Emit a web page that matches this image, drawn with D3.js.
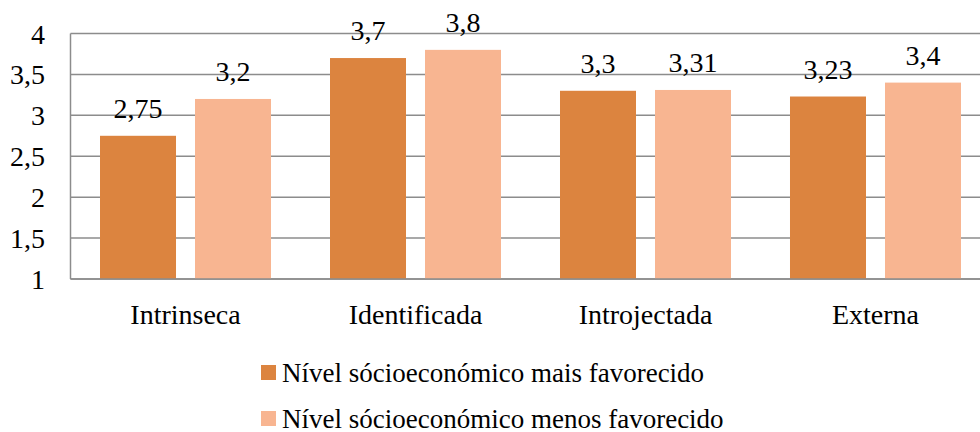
<!DOCTYPE html>
<html>
<head>
<meta charset="utf-8">
<script src="https://cdn.jsdelivr.net/npm/d3@7/dist/d3.min.js"></script>
<style>
  html, body { margin: 0; padding: 0; background: #fff; }
  svg { display: block; }
  text { font-family: "Liberation Serif", "Times New Roman", serif; fill: #000; }
</style>
</head>
<body>
<svg id="chart" width="980" height="432"></svg>
<script>
// Categories and series
const categories = ["Intrinseca", "Identificada", "Introjectada", "Externa"];
const seriesNames = ["Nível sócioeconómico mais favorecido", "Nível sócioeconómico menos favorecido"];
const maisFavorecido = [2.75, 3.7, 3.3, 3.23];
const menosFavorecido = [3.2, 3.8, 3.31, 3.4];
const valueLabels = [["2,75", "3,7", "3,3", "3,23"], ["3,2", "3,8", "3,31", "3,4"]];
const yTicks = [1, 1.5, 2, 2.5, 3, 3.5, 4];
const yTickLabels = ["1", "1,5", "2", "2,5", "3", "3,5", "4"];
const colors = ["#DC843F", "#F8B591"];

const series = [maisFavorecido, menosFavorecido];

const svg = d3.select("#chart");

const x0 = d3.scaleBand()
  .domain(categories)
  .range([70.5, 990.5])
  .paddingInner(0.2565)
  .paddingOuter(0.1283);

const x1 = d3.scaleBand()
  .domain([0, 1])
  .range([0, x0.bandwidth()])
  .paddingInner(0.2)
  .paddingOuter(0);

const y = d3.scaleLinear().domain([1, 4]).range([279, 33.5]);

// Horizontal gridlines
svg.append("g")
  .selectAll("line")
  .data(yTicks)
  .join("line")
  .attr("x1", 70.5)
  .attr("x2", 990)
  .attr("y1", d => y(d))
  .attr("y2", d => y(d))
  .attr("stroke", "#8c8c8c")
  .attr("stroke-width", 1.5);

// Y axis labels
svg.append("g")
  .selectAll("text")
  .data(yTicks)
  .join("text")
  .attr("x", 45)
  .attr("y", d => y(d) + 10)
  .attr("text-anchor", "end")
  .attr("font-size", 28)
  .text((d, i) => yTickLabels[i]);

// Bars
const groups = svg.append("g")
  .selectAll("g")
  .data(categories)
  .join("g")
  .attr("transform", d => `translate(${x0(d)},0)`);

const cells = (d, i) => series.map((s, k) => ({ k, v: s[i], label: valueLabels[k][i] }));

groups.selectAll("rect")
  .data(cells)
  .join("rect")
  .attr("x", d => x1(d.k))
  .attr("width", x1.bandwidth())
  .attr("y", d => y(d.v))
  .attr("height", d => y(1) - y(d.v))
  .attr("fill", d => colors[d.k]);

groups.selectAll("text")
  .data(cells)
  .join("text")
  .attr("x", d => x1(d.k) + x1.bandwidth() / 2)
  .attr("y", d => y(d.v) - 18)
  .attr("text-anchor", "middle")
  .attr("font-size", 28)
  .text(d => d.label);

// Axis lines
svg.append("line")
  .attr("x1", 70.5).attr("x2", 70.5)
  .attr("y1", y(4)).attr("y2", y(1))
  .attr("stroke", "#8c8c8c").attr("stroke-width", 1.5);
svg.append("line")
  .attr("x1", 70.5).attr("x2", 990)
  .attr("y1", y(1)).attr("y2", y(1))
  .attr("stroke", "#8c8c8c").attr("stroke-width", 1.5);

// Category labels
svg.append("g")
  .selectAll("text")
  .data(categories)
  .join("text")
  .attr("x", d => x0(d) + x0.bandwidth() / 2)
  .attr("y", 324)
  .attr("text-anchor", "middle")
  .attr("font-size", 28)
  .text(d => d);

// Legend
const legend = svg.append("g")
  .selectAll("g")
  .data(seriesNames)
  .join("g")
  .attr("transform", (d, i) => `translate(261,${365 + i * 46})`);

legend.append("rect")
  .attr("width", 15)
  .attr("height", 15)
  .attr("fill", (d, i) => colors[i]);

legend.append("text")
  .attr("x", 21)
  .attr("y", 16.5)
  .attr("font-size", 27)
  .text(d => d);
</script>
</body>
</html>
